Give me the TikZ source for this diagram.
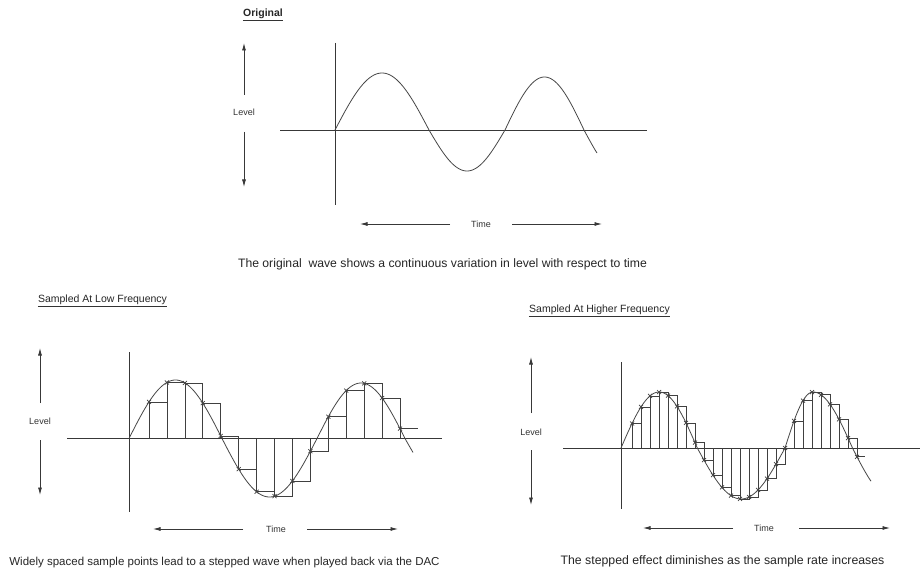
\documentclass[tikz,border=0pt]{standalone}
\usepackage{fontspec}
\setmainfont{Liberation Sans}
\usetikzlibrary{arrows.meta}
\begin{document}
\begin{tikzpicture}[x=1pt,y=-1pt,
  declare function={
    ftop(\t) = (\t<429) ? 57*sin((\t-335)/94*180) : ((\t<505) ? -41*sin((\t-429)/76*180) : ((\t<584) ? 53*sin((\t-505)/79*180) : -45*sin((\t-584)/76*180)));
    fl(\t) = (\t<222) ? 58.5*sin((\t-129)/93*180) : ((\t<317) ? -58.5*sin((\t-222)/95*180) : ((\t<405) ? 55.5*sin((\t-317)/88*180) : -45*sin((\t-405)/80*180)));
    fr(\t) = (\t<697.3) ? 56*sin((\t-621)/76.3*180) : ((\t<785) ? -51*sin((\t-697.3)/87.7*180) : ((\t<813) ? 56*sin((\t-785)/28*90) : ((\t<852.5) ? 56*cos((\t-813)/39.5*90) : -50*sin((\t-852.5)/80*180))));
  },
  ln/.style={draw=black!78, line width=0.8pt},
  wave/.style={draw=black!72, line width=0.8pt},
  stp/.style={draw=black!75, line width=0.7pt},
  arr/.style={ln, -{Latex[length=7.5pt,width=4pt]}},
  lbl/.style={inner sep=0pt, text=black!80, font=\fontsize{9}{10}\selectfont},
  head/.style={inner sep=0pt, text=black!85, font=\fontsize{10.5}{12}\selectfont},
  captxt/.style={inner sep=0pt, text=black!85},
  ul/.style={draw=black!80, line width=0.8pt},
  xm/.pic={\draw[stp] (-2,-2) -- (2,2) (-2,2) -- (2,-2);}
  ]
\useasboundingbox[fill=white] (0,0) rectangle (920,572);

% ---------------- Top panel ----------------
\node[head, font=\bfseries\fontsize{10.5}{12}\selectfont] (h1) at (263,14) {Original};
\draw[ul] ([yshift=-1.5pt]h1.south west) -- ([yshift=-1.5pt]h1.south east);

\node[lbl] (lv1) at (244,112) {Level};
\coordinate (lv1a) at (244,95);  \coordinate (lv1b) at (244,43);
\coordinate (lv1c) at (244,132); \coordinate (lv1d) at (244,187);
\draw[arr] (lv1a) -- (lv1b);
\draw[arr] (lv1c) -- (lv1d);

\coordinate (v1t) at (335,43);  \coordinate (v1b) at (335,205);
\coordinate (h1l) at (280,130); \coordinate (h1r) at (647,130);
\draw[ln] (v1t) -- (v1b);
\draw[ln] (h1l) -- (h1r);

\draw[wave] plot[domain=335:597, samples=240] (\x, {130-ftop(\x)});

\node[lbl] (t1) at (481,224) {Time};
\coordinate (t1a) at (450,224); \coordinate (t1b) at (360,224);
\coordinate (t1c) at (512,224); \coordinate (t1d) at (602,224);
\draw[arr] (t1a) -- (t1b);
\draw[arr] (t1c) -- (t1d);

\node[captxt, font=\fontsize{12.2}{14}\selectfont] (c1) at (442.5,264) {The original\ \ wave shows a continuous variation in level with respect to time};

% ---------------- Bottom-left panel ----------------
\node[head] (h2) at (102.5,300) {Sampled At Low Frequency};
\draw[ul] ([yshift=-1.5pt]h2.south west) -- ([yshift=-1.5pt]h2.south east);

\node[lbl] (lv2) at (40,421) {Level};
\coordinate (lv2a) at (40,403); \coordinate (lv2b) at (40,348);
\coordinate (lv2c) at (40,440); \coordinate (lv2d) at (40,495);
\draw[arr] (lv2a) -- (lv2b);
\draw[arr] (lv2c) -- (lv2d);

\coordinate (v2t) at (129,352); \coordinate (v2b) at (129,512);
\coordinate (h2l) at (67,438.5); \coordinate (h2r) at (442,438.5);
\draw[ln] (v2t) -- (v2b);
\draw[ln] (h2l) -- (h2r);

\foreach \i in {1,...,14} {
  \pgfmathsetmacro\xa{149+(\i-1)*17.93}
  \pgfmathsetmacro\xb{\xa+17.93}
  \pgfmathsetmacro\yy{438.5-fl(\xa)}
  \draw[stp] (\xa,438.5) -- (\xa,\yy) -- (\xb,\yy) -- (\xb,438.5);
  \pic at (\xa,\yy) {xm};
}
\pgfmathsetmacro\xl{149+14*17.93}
\pgfmathsetmacro\yl{438.5-fl(\xl)}
\draw[stp] (\xl,438.5) -- (\xl,\yl) -- (\xl+18,\yl);
\pic at (\xl,\yl) {xm};

\draw[wave] plot[domain=129:413, samples=240] (\x, {438.5-fl(\x)});

\node[lbl] (t2) at (276,529) {Time};
\coordinate (t2a) at (243,529); \coordinate (t2b) at (153,529);
\coordinate (t2c) at (307,529); \coordinate (t2d) at (398,529);
\draw[arr] (t2a) -- (t2b);
\draw[arr] (t2c) -- (t2d);

\node[captxt, font=\fontsize{11.5}{14}\selectfont] (c2) at (224.5,563) {Widely spaced sample points lead to a stepped wave when played back via the DAC};

% ---------------- Bottom-right panel ----------------
\node[head] (h3) at (599.5,310) {Sampled At Higher Frequency};
\draw[ul] ([yshift=-1.5pt]h3.south west) -- ([yshift=-1.5pt]h3.south east);

\node[lbl] (lv3) at (531,432) {Level};
\coordinate (lv3a) at (531,413); \coordinate (lv3b) at (531,357);
\coordinate (lv3c) at (531,450); \coordinate (lv3d) at (531,505);
\draw[arr] (lv3a) -- (lv3b);
\draw[arr] (lv3c) -- (lv3d);

\coordinate (v3t) at (621,362); \coordinate (v3b) at (621,509);
\coordinate (h3l) at (563,448); \coordinate (h3r) at (920,448);
\draw[ln] (v3t) -- (v3b);
\draw[ln] (h3l) -- (h3r);

\foreach \i in {1,...,25} {
  \pgfmathsetmacro\xa{632+(\i-1)*9}
  \pgfmathsetmacro\xb{\xa+9}
  \pgfmathsetmacro\yy{448-fr(\xa)}
  \draw[stp] (\xa,448) -- (\xa,\yy) -- (\xb,\yy) -- (\xb,448);
  \pic at (\xa,\yy) {xm};
}
\pgfmathsetmacro\yr{448-fr(857)}
\draw[stp] (857,448) -- (857,\yr) -- (865,\yr);
\pic at (857,\yr) {xm};

\draw[wave] plot[domain=621:871, samples=240] (\x, {448-fr(\x)});

\node[lbl] (t3) at (764,528) {Time};
\coordinate (t3a) at (733,528); \coordinate (t3b) at (643,528);
\coordinate (t3c) at (799,528); \coordinate (t3d) at (890,528);
\draw[arr] (t3a) -- (t3b);
\draw[arr] (t3c) -- (t3d);

\node[captxt, font=\fontsize{12.3}{14}\selectfont] (c3) at (722.5,561) {The stepped effect diminishes as the sample rate increases};
\end{tikzpicture}
\end{document}
